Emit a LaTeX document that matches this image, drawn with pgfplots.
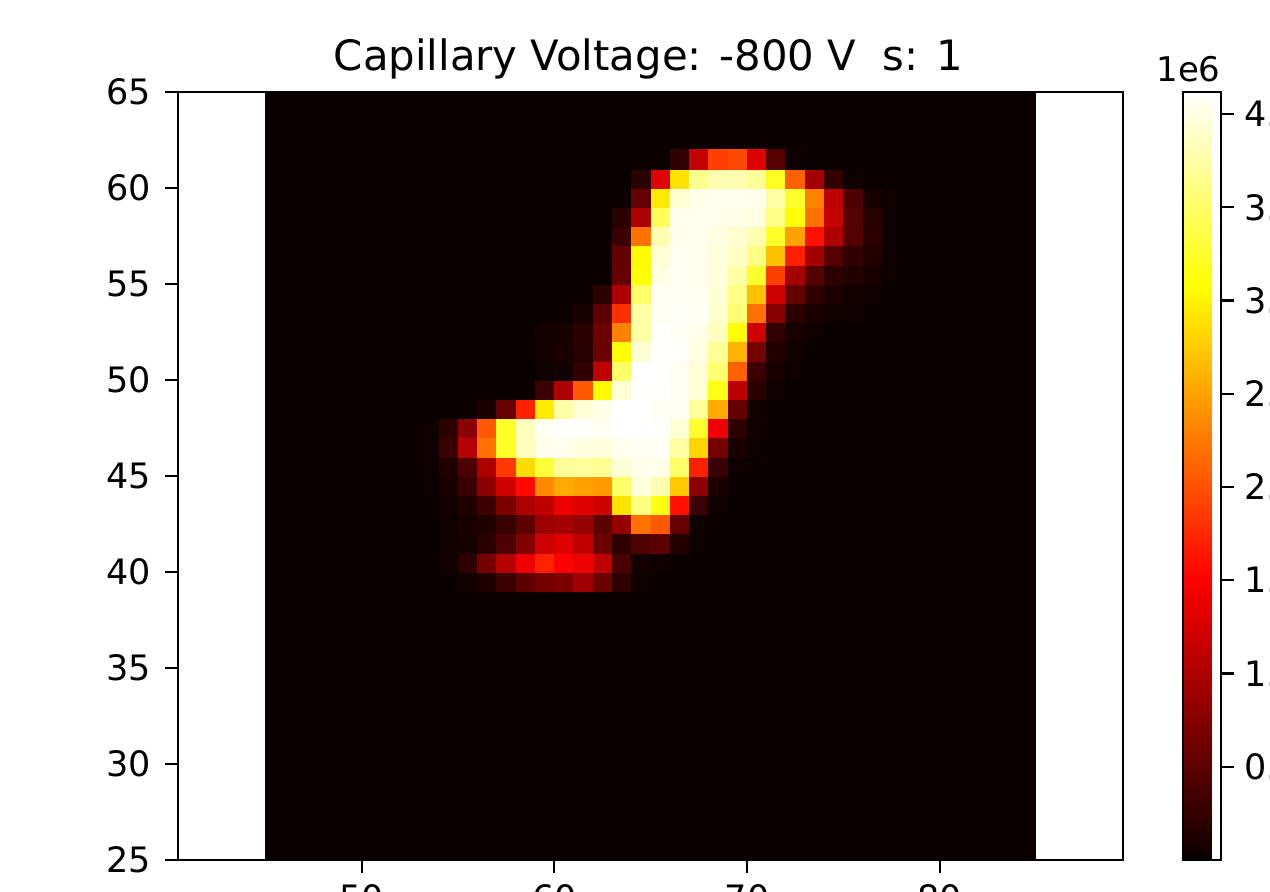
\documentclass[border=0pt]{standalone}
\usepackage{fontspec}
\setmainfont{DejaVu Sans}
\usepackage{pgfplots}
\pgfplotsset{compat=1.18}
\definecolor{hotzero}{rgb}{0.0416,0,0}
\begin{document}
\begin{tikzpicture}
\path[use as bounding box,clip] (0,0) rectangle (635pt,445.5pt);
\begin{axis}[
  at={(89pt,15.5pt)},anchor=south west,
  scale only axis,width=472.5pt,height=384pt,
  xmin=40.47,xmax=89.51,ymin=25,ymax=65,
  axis on top,
  axis line style={line width=1.1pt,black},
  tick style={line width=1.1pt,black},
  tick align=outside,tick pos=left,
  major tick length=6.5pt,
  xtick={50,60,70,80},
  ytick={25,30,35,40,45,50,55,60,65},
  /pgf/number format/assume math mode=true,
  tick label style={font=\fontsize{17.5}{21}\selectfont,inner sep=1pt},
  xticklabel style={yshift=-4.5pt},
  yticklabel style={xshift=-5.7pt},
  title={Capillary Voltage: -800 V\ \ s: 1},
  title style={font=\fontsize{20.9}{25}\selectfont,yshift=-3pt,xshift=-1pt},
  colormap={hotmpl}{rgb(0cm)=(0.0416,0,0); rgb(3.65079cm)=(1,0,0); rgb(7.46032cm)=(1,1,0); rgb(10cm)=(1,1,1)},
  point meta min=0,point meta max=4.118,
  colorbar,
  colorbar style={
    anchor=north west,at={(parent axis.north east)},xshift=21.5pt,
    width=19pt,height=384pt,
    axis line style={line width=1.1pt,black},
    tick style={line width=1.1pt,black},
    tick align=outside,major tick length=6.5pt,
    ytick={0.5,1,1.5,2,2.5,3,3.5,4},
    ytick pos=right,
    /pgf/number format/fixed,
    /pgf/number format/fixed zerofill,
    /pgf/number format/precision=1,
    /pgf/number format/assume math mode=true,
    yticklabel style={font=\fontsize{17.5}{21}\selectfont,inner sep=1pt,xshift=4pt},
    scaled y ticks=false,
  },
]
\addplot[fill=hotzero,draw=none] coordinates {(45,25) (85,25) (85,65) (45,65)} --cycle;
\addplot[scatter,only marks,mark=square*,mark size=4.81pt,point meta=explicit,
  scatter/use mapped color={draw=mapped color,fill=mapped color},
  mark options={line width=0.15pt}] table[row sep=\\,meta=z] {
x y z\\
53.5 39.5 0\\ 54.5 39.5 0\\ 55.5 39.5 .04\\ 56.5 39.5 .12\\ 57.5 39.5 .3\\ 58.5 39.5 .5\\ 59.5 39.5 .65\\ 60.5 39.5 .7\\ 61.5 39.5 .9\\ 62.5 39.5 .6\\ 63.5 39.5 .22\\ 64.5 39.5 .02\\ 65.5 39.5 0\\ 66.5 39.5 0\\ 67.5 39.5 0\\ 68.5 39.5 0\\ 69.5 39.5 0\\ 70.5 39.5 0\\ 71.5 39.5 0\\ 72.5 39.5 0\\ 73.5 39.5 0\\ 74.5 39.5 0\\ 75.5 39.5 0\\ 76.5 39.5 0\\ 77.5 39.5 0\\
53.5 40.5 0\\ 54.5 40.5 .04\\ 55.5 40.5 .22\\ 56.5 40.5 .65\\ 57.5 40.5 1.05\\ 58.5 40.5 1.4\\ 59.5 40.5 1.7\\ 60.5 40.5 1.5\\ 61.5 40.5 1.4\\ 62.5 40.5 1.1\\ 63.5 40.5 .38\\ 64.5 40.5 .05\\ 65.5 40.5 .02\\ 66.5 40.5 0\\ 67.5 40.5 0\\ 68.5 40.5 0\\ 69.5 40.5 0\\ 70.5 40.5 0\\ 71.5 40.5 0\\ 72.5 40.5 0\\ 73.5 40.5 0\\ 74.5 40.5 0\\ 75.5 40.5 0\\ 76.5 40.5 0\\ 77.5 40.5 0\\
53.5 41.5 0\\ 54.5 41.5 .03\\ 55.5 41.5 .07\\ 56.5 41.5 .2\\ 57.5 41.5 .42\\ 58.5 41.5 .72\\ 59.5 41.5 1.2\\ 60.5 41.5 1.3\\ 61.5 41.5 1.1\\ 62.5 41.5 .6\\ 63.5 41.5 .22\\ 64.5 41.5 .42\\ 65.5 41.5 .48\\ 66.5 41.5 .15\\ 67.5 41.5 .01\\ 68.5 41.5 0\\ 69.5 41.5 0\\ 70.5 41.5 0\\ 71.5 41.5 0\\ 72.5 41.5 0\\ 73.5 41.5 0\\ 74.5 41.5 0\\ 75.5 41.5 0\\ 76.5 41.5 0\\ 77.5 41.5 0\\
53.5 42.5 0\\ 54.5 42.5 .03\\ 55.5 42.5 .07\\ 56.5 42.5 .13\\ 57.5 42.5 .28\\ 58.5 42.5 .5\\ 59.5 42.5 .9\\ 60.5 42.5 .95\\ 61.5 42.5 .85\\ 62.5 42.5 .5\\ 63.5 42.5 .85\\ 64.5 42.5 2.2\\ 65.5 42.5 2.05\\ 66.5 42.5 .55\\ 67.5 42.5 .02\\ 68.5 42.5 0\\ 69.5 42.5 0\\ 70.5 42.5 0\\ 71.5 42.5 0\\ 72.5 42.5 0\\ 73.5 42.5 0\\ 74.5 42.5 0\\ 75.5 42.5 0\\ 76.5 42.5 0\\ 77.5 42.5 0\\
53.5 43.5 0\\ 54.5 43.5 .05\\ 55.5 43.5 .14\\ 56.5 43.5 .3\\ 57.5 43.5 .7\\ 58.5 43.5 1\\ 59.5 43.5 1.1\\ 60.5 43.5 1.4\\ 61.5 43.5 1.3\\ 62.5 43.5 1.2\\ 63.5 43.5 2.9\\ 64.5 43.5 3.6\\ 65.5 43.5 3.15\\ 66.5 43.5 1.6\\ 67.5 43.5 .28\\ 68.5 43.5 .02\\ 69.5 43.5 0\\ 70.5 43.5 0\\ 71.5 43.5 0\\ 72.5 43.5 0\\ 73.5 43.5 0\\ 74.5 43.5 0\\ 75.5 43.5 0\\ 76.5 43.5 0\\ 77.5 43.5 0\\
53.5 44.5 .01\\ 54.5 44.5 .1\\ 55.5 44.5 .3\\ 56.5 44.5 .8\\ 57.5 44.5 1.2\\ 58.5 44.5 1.55\\ 59.5 44.5 2.35\\ 60.5 44.5 2.55\\ 61.5 44.5 2.5\\ 62.5 44.5 2.45\\ 63.5 44.5 3.5\\ 64.5 44.5 3.97\\ 65.5 44.5 3.8\\ 66.5 44.5 2.75\\ 67.5 44.5 .8\\ 68.5 44.5 .1\\ 69.5 44.5 0\\ 70.5 44.5 0\\ 71.5 44.5 0\\ 72.5 44.5 0\\ 73.5 44.5 0\\ 74.5 44.5 0\\ 75.5 44.5 0\\ 76.5 44.5 0\\ 77.5 44.5 0\\
53.5 45.5 .02\\ 54.5 45.5 .13\\ 55.5 45.5 .4\\ 56.5 45.5 1\\ 57.5 45.5 1.85\\ 58.5 45.5 2.85\\ 59.5 45.5 3.3\\ 60.5 45.5 3.7\\ 61.5 45.5 3.7\\ 62.5 45.5 3.68\\ 63.5 45.5 3.95\\ 64.5 45.5 4.03\\ 65.5 45.5 4.03\\ 66.5 45.5 3.5\\ 67.5 45.5 1.7\\ 68.5 45.5 .28\\ 69.5 45.5 .03\\ 70.5 45.5 0\\ 71.5 45.5 0\\ 72.5 45.5 0\\ 73.5 45.5 0\\ 74.5 45.5 0\\ 75.5 45.5 0\\ 76.5 45.5 0\\ 77.5 45.5 0\\
53.5 46.5 .02\\ 54.5 46.5 .28\\ 55.5 46.5 1.05\\ 56.5 46.5 2.2\\ 57.5 46.5 3.25\\ 58.5 46.5 3.85\\ 59.5 46.5 4.05\\ 60.5 46.5 4.05\\ 61.5 46.5 4\\ 62.5 46.5 3.97\\ 63.5 46.5 4.05\\ 64.5 46.5 4.08\\ 65.5 46.5 4.08\\ 66.5 46.5 3.75\\ 67.5 46.5 2.8\\ 68.5 46.5 .65\\ 69.5 46.5 .08\\ 70.5 46.5 .01\\ 71.5 46.5 0\\ 72.5 46.5 0\\ 73.5 46.5 0\\ 74.5 46.5 0\\ 75.5 46.5 0\\ 76.5 46.5 0\\ 77.5 46.5 0\\
53.5 47.5 .02\\ 54.5 47.5 .2\\ 55.5 47.5 .8\\ 56.5 47.5 2.05\\ 57.5 47.5 3.25\\ 58.5 47.5 3.85\\ 59.5 47.5 4.07\\ 60.5 47.5 4.118\\ 61.5 47.5 4.1\\ 62.5 47.5 4.07\\ 63.5 47.5 4.118\\ 64.5 47.5 4.118\\ 65.5 47.5 4.1\\ 66.5 47.5 3.95\\ 67.5 47.5 3.25\\ 68.5 47.5 1.4\\ 69.5 47.5 .2\\ 70.5 47.5 .02\\ 71.5 47.5 0\\ 72.5 47.5 0\\ 73.5 47.5 0\\ 74.5 47.5 0\\ 75.5 47.5 0\\ 76.5 47.5 0\\ 77.5 47.5 0\\
53.5 48.5 0\\ 54.5 48.5 0\\ 55.5 48.5 0\\ 56.5 48.5 .1\\ 57.5 48.5 .55\\ 58.5 48.5 1.7\\ 59.5 48.5 2.95\\ 60.5 48.5 3.75\\ 61.5 48.5 3.95\\ 62.5 48.5 4.03\\ 63.5 48.5 4.118\\ 64.5 48.5 4.118\\ 65.5 48.5 4.08\\ 66.5 48.5 4.07\\ 67.5 48.5 3.7\\ 68.5 48.5 2.55\\ 69.5 48.5 .55\\ 70.5 48.5 .04\\ 71.5 48.5 0\\ 72.5 48.5 0\\ 73.5 48.5 0\\ 74.5 48.5 0\\ 75.5 48.5 0\\ 76.5 48.5 0\\ 77.5 48.5 0\\
53.5 49.5 0\\ 54.5 49.5 0\\ 55.5 49.5 0\\ 56.5 49.5 0\\ 57.5 49.5 0\\ 58.5 49.5 0\\ 59.5 49.5 .28\\ 60.5 49.5 1\\ 61.5 49.5 2.05\\ 62.5 49.5 3.05\\ 63.5 49.5 3.95\\ 64.5 49.5 4.118\\ 65.5 49.5 4.1\\ 66.5 49.5 4.07\\ 67.5 49.5 3.95\\ 68.5 49.5 3.15\\ 69.5 49.5 1.1\\ 70.5 49.5 .2\\ 71.5 49.5 .02\\ 72.5 49.5 0\\ 73.5 49.5 0\\ 74.5 49.5 0\\ 75.5 49.5 0\\ 76.5 49.5 0\\ 77.5 49.5 0\\
53.5 50.5 0\\ 54.5 50.5 0\\ 55.5 50.5 0\\ 56.5 50.5 0\\ 57.5 50.5 0\\ 58.5 50.5 0\\ 59.5 50.5 .03\\ 60.5 50.5 .05\\ 61.5 50.5 .25\\ 62.5 50.5 1.1\\ 63.5 50.5 3.5\\ 64.5 50.5 4.118\\ 65.5 50.5 4.11\\ 66.5 50.5 4.07\\ 67.5 50.5 3.95\\ 68.5 50.5 3.55\\ 69.5 50.5 2.1\\ 70.5 50.5 .3\\ 71.5 50.5 .08\\ 72.5 50.5 .02\\ 73.5 50.5 0\\ 74.5 50.5 0\\ 75.5 50.5 0\\ 76.5 50.5 0\\ 77.5 50.5 0\\
53.5 51.5 0\\ 54.5 51.5 0\\ 55.5 51.5 0\\ 56.5 51.5 0\\ 57.5 51.5 0\\ 58.5 51.5 0\\ 59.5 51.5 .05\\ 60.5 51.5 .09\\ 61.5 51.5 .17\\ 62.5 51.5 .6\\ 63.5 51.5 3.1\\ 64.5 51.5 3.95\\ 65.5 51.5 4.11\\ 66.5 51.5 4.1\\ 67.5 51.5 4\\ 68.5 51.5 3.7\\ 69.5 51.5 2.6\\ 70.5 51.5 .65\\ 71.5 51.5 .15\\ 72.5 51.5 .04\\ 73.5 51.5 0\\ 74.5 51.5 0\\ 75.5 51.5 0\\ 76.5 51.5 0\\ 77.5 51.5 0\\
53.5 52.5 0\\ 54.5 52.5 0\\ 55.5 52.5 0\\ 56.5 52.5 0\\ 57.5 52.5 0\\ 58.5 52.5 0\\ 59.5 52.5 .06\\ 60.5 52.5 .09\\ 61.5 52.5 .2\\ 62.5 52.5 .6\\ 63.5 52.5 2.3\\ 64.5 52.5 3.75\\ 65.5 52.5 4.1\\ 66.5 52.5 4.08\\ 67.5 52.5 4.03\\ 68.5 52.5 3.85\\ 69.5 52.5 3.1\\ 70.5 52.5 1.2\\ 71.5 52.5 .25\\ 72.5 52.5 .07\\ 73.5 52.5 .03\\ 74.5 52.5 0\\ 75.5 52.5 0\\ 76.5 52.5 0\\ 77.5 52.5 0\\
53.5 53.5 0\\ 54.5 53.5 0\\ 55.5 53.5 0\\ 56.5 53.5 0\\ 57.5 53.5 0\\ 58.5 53.5 0\\ 59.5 53.5 0\\ 60.5 53.5 0\\ 61.5 53.5 .1\\ 62.5 53.5 .5\\ 63.5 53.5 1.8\\ 64.5 53.5 3.75\\ 65.5 53.5 4.08\\ 66.5 53.5 4.09\\ 67.5 53.5 4.07\\ 68.5 53.5 3.92\\ 69.5 53.5 3.55\\ 70.5 53.5 2.2\\ 71.5 53.5 .75\\ 72.5 53.5 .2\\ 73.5 53.5 .1\\ 74.5 53.5 .04\\ 75.5 53.5 .02\\ 76.5 53.5 0\\ 77.5 53.5 0\\
53.5 54.5 0\\ 54.5 54.5 0\\ 55.5 54.5 0\\ 56.5 54.5 0\\ 57.5 54.5 0\\ 58.5 54.5 0\\ 59.5 54.5 0\\ 60.5 54.5 0\\ 61.5 54.5 0\\ 62.5 54.5 .2\\ 63.5 54.5 1\\ 64.5 54.5 3.5\\ 65.5 54.5 4.07\\ 66.5 54.5 4.08\\ 67.5 54.5 4.06\\ 68.5 54.5 3.95\\ 69.5 54.5 3.6\\ 70.5 54.5 2.7\\ 71.5 54.5 1.2\\ 72.5 54.5 .55\\ 73.5 54.5 .25\\ 74.5 54.5 .12\\ 75.5 54.5 .04\\ 76.5 54.5 .02\\ 77.5 54.5 0\\
53.5 55.5 0\\ 54.5 55.5 0\\ 55.5 55.5 0\\ 56.5 55.5 0\\ 57.5 55.5 0\\ 58.5 55.5 0\\ 59.5 55.5 0\\ 60.5 55.5 0\\ 61.5 55.5 0\\ 62.5 55.5 0\\ 63.5 55.5 .55\\ 64.5 55.5 3.1\\ 65.5 55.5 4\\ 66.5 55.5 4.07\\ 67.5 55.5 4.05\\ 68.5 55.5 3.97\\ 69.5 55.5 3.75\\ 70.5 55.5 3.25\\ 71.5 55.5 1.9\\ 72.5 55.5 .95\\ 73.5 55.5 .45\\ 74.5 55.5 .2\\ 75.5 55.5 .15\\ 76.5 55.5 .08\\ 77.5 55.5 .02\\
53.5 56.5 0\\ 54.5 56.5 0\\ 55.5 56.5 0\\ 56.5 56.5 0\\ 57.5 56.5 0\\ 58.5 56.5 0\\ 59.5 56.5 0\\ 60.5 56.5 0\\ 61.5 56.5 0\\ 62.5 56.5 0\\ 63.5 56.5 .55\\ 64.5 56.5 3.05\\ 65.5 56.5 3.95\\ 66.5 56.5 4.06\\ 67.5 56.5 4.05\\ 68.5 56.5 3.97\\ 69.5 56.5 3.87\\ 70.5 56.5 3.62\\ 71.5 56.5 2.7\\ 72.5 56.5 1.7\\ 73.5 56.5 .95\\ 74.5 56.5 .45\\ 75.5 56.5 .25\\ 76.5 56.5 .15\\ 77.5 56.5 .02\\
53.5 57.5 0\\ 54.5 57.5 0\\ 55.5 57.5 0\\ 56.5 57.5 0\\ 57.5 57.5 0\\ 58.5 57.5 0\\ 59.5 57.5 0\\ 60.5 57.5 0\\ 61.5 57.5 0\\ 62.5 57.5 0\\ 63.5 57.5 .3\\ 64.5 57.5 2.2\\ 65.5 57.5 3.8\\ 66.5 57.5 4.05\\ 67.5 57.5 4.05\\ 68.5 57.5 4\\ 69.5 57.5 3.93\\ 70.5 57.5 3.8\\ 71.5 57.5 3.25\\ 72.5 57.5 2.5\\ 73.5 57.5 1.6\\ 74.5 57.5 1\\ 75.5 57.5 .45\\ 76.5 57.5 .2\\ 77.5 57.5 .03\\
53.5 58.5 0\\ 54.5 58.5 0\\ 55.5 58.5 0\\ 56.5 58.5 0\\ 57.5 58.5 0\\ 58.5 58.5 0\\ 59.5 58.5 0\\ 60.5 58.5 0\\ 61.5 58.5 0\\ 62.5 58.5 0\\ 63.5 58.5 .2\\ 64.5 58.5 1\\ 65.5 58.5 3.45\\ 66.5 58.5 4.05\\ 67.5 58.5 4.05\\ 68.5 58.5 4.03\\ 69.5 58.5 4.02\\ 70.5 58.5 4\\ 71.5 58.5 3.62\\ 72.5 58.5 3.08\\ 73.5 58.5 2.2\\ 74.5 58.5 1.15\\ 75.5 58.5 .45\\ 76.5 58.5 .18\\ 77.5 58.5 .03\\
53.5 59.5 0\\ 54.5 59.5 0\\ 55.5 59.5 0\\ 56.5 59.5 0\\ 57.5 59.5 0\\ 58.5 59.5 0\\ 59.5 59.5 0\\ 60.5 59.5 0\\ 61.5 59.5 0\\ 62.5 59.5 0\\ 63.5 59.5 0\\ 64.5 59.5 .55\\ 65.5 59.5 2.95\\ 66.5 59.5 3.92\\ 67.5 59.5 4.03\\ 68.5 59.5 4.04\\ 69.5 59.5 4.04\\ 70.5 59.5 4.03\\ 71.5 59.5 3.75\\ 72.5 59.5 3.27\\ 73.5 59.5 2.3\\ 74.5 59.5 1.1\\ 75.5 59.5 .4\\ 76.5 59.5 .08\\ 77.5 59.5 .02\\
53.5 60.5 0\\ 54.5 60.5 0\\ 55.5 60.5 0\\ 56.5 60.5 0\\ 57.5 60.5 0\\ 58.5 60.5 0\\ 59.5 60.5 0\\ 60.5 60.5 0\\ 61.5 60.5 0\\ 62.5 60.5 0\\ 63.5 60.5 0\\ 64.5 60.5 .2\\ 65.5 60.5 1.3\\ 66.5 60.5 2.9\\ 67.5 60.5 3.65\\ 68.5 60.5 3.8\\ 69.5 60.5 3.8\\ 70.5 60.5 3.7\\ 71.5 60.5 3.2\\ 72.5 60.5 2.1\\ 73.5 60.5 .95\\ 74.5 60.5 .25\\ 75.5 60.5 .02\\ 76.5 60.5 0\\ 77.5 60.5 0\\
53.5 61.5 0\\ 54.5 61.5 0\\ 55.5 61.5 0\\ 56.5 61.5 0\\ 57.5 61.5 0\\ 58.5 61.5 0\\ 59.5 61.5 0\\ 60.5 61.5 0\\ 61.5 61.5 0\\ 62.5 61.5 0\\ 63.5 61.5 0\\ 64.5 61.5 0\\ 65.5 61.5 0\\ 66.5 61.5 .25\\ 67.5 61.5 1.13\\ 68.5 61.5 1.9\\ 69.5 61.5 1.95\\ 70.5 61.5 1.3\\ 71.5 61.5 .45\\ 72.5 61.5 .03\\ 73.5 61.5 0\\ 74.5 61.5 0\\ 75.5 61.5 0\\ 76.5 61.5 0\\ 77.5 61.5 0\\
};
\end{axis}
\node[anchor=base east,font=\fontsize{17}{21}\selectfont,inner sep=0pt] at (610.5pt,404.5pt) {1e6};
\end{tikzpicture}
\end{document}
